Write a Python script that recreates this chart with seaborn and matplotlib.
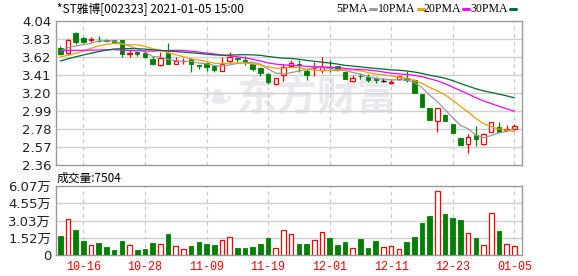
import numpy as np
import pandas as pd
import matplotlib
matplotlib.use("Agg")
import matplotlib.pyplot as plt
import seaborn as sns

# ---------------- data ----------------
dates = ["10-13","10-14","10-15","10-16","10-19","10-20","10-21","10-22","10-23","10-26",
         "10-27","10-28","10-29","10-30","11-02","11-03","11-04","11-05","11-06","11-09",
         "11-10","11-11","11-12","11-13","11-16","11-17","11-18","11-19","11-20","11-23",
         "11-24","11-25","11-26","11-27","11-30","12-01","12-02","12-03","12-04","12-07",
         "12-08","12-09","12-10","12-11","12-14","12-15","12-16","12-17","12-18","12-21",
         "12-22","12-23","12-24","12-25","12-28","12-29","12-30","12-31","01-04","01-05"]

open_ = [3.725,3.663,3.896,3.845,3.820,3.810,3.817,3.815,3.818,3.660,
         3.678,3.670,3.593,3.523,3.672,3.542,3.575,3.593,3.524,3.553,
         3.510,3.460,3.570,3.605,3.590,3.535,3.490,3.418,3.305,3.410,
         3.520,3.540,3.455,3.490,3.470,3.500,3.515,3.450,3.345,3.402,
         3.390,3.370,3.340,3.320,3.360,3.380,3.350,3.185,3.020,2.877,
         2.943,2.838,2.678,2.602,2.710,2.600,2.750,2.800,2.765,2.776]
high = [3.748,3.830,3.908,3.857,3.857,3.868,3.830,3.820,3.820,3.700,
        3.693,3.700,3.632,3.682,3.780,3.623,3.612,3.612,3.524,3.565,
        3.520,3.617,3.682,3.623,3.630,3.550,3.507,3.430,3.373,3.535,
        3.580,3.580,3.490,3.560,3.617,3.580,3.520,3.455,3.410,3.430,
        3.420,3.390,3.370,3.360,3.400,3.455,3.360,3.190,3.020,3.020,
        2.960,2.838,2.678,2.720,2.810,2.730,2.867,2.865,2.825,2.840]
low = [3.643,3.643,3.775,3.787,3.800,3.798,3.800,3.787,3.616,3.616,
       3.632,3.608,3.527,3.518,3.535,3.540,3.535,3.448,3.480,3.460,
       3.448,3.455,3.547,3.553,3.530,3.460,3.400,3.300,3.295,3.340,
       3.500,3.450,3.350,3.400,3.430,3.450,3.460,3.360,3.330,3.360,
       3.330,3.320,3.330,3.300,3.350,3.330,3.200,3.040,2.885,2.748,
       2.877,2.736,2.593,2.503,2.580,2.590,2.748,2.745,2.760,2.770]
close = [3.658,3.818,3.798,3.798,3.825,3.805,3.810,3.800,3.650,3.672,
         3.652,3.616,3.542,3.612,3.540,3.577,3.578,3.535,3.518,3.500,
         3.468,3.540,3.617,3.600,3.560,3.475,3.430,3.332,3.370,3.505,
         3.550,3.530,3.405,3.495,3.505,3.490,3.470,3.360,3.375,3.398,
         3.355,3.350,3.340,3.325,3.395,3.350,3.205,3.040,2.885,3.020,
         2.877,2.736,2.593,2.685,2.660,2.720,2.858,2.748,2.780,2.820]
# earlier closes (before the visible window) needed for the moving averages
prior_close = [3.05,3.10,3.15,3.20,3.26,3.30,3.39,3.56,3.64,3.69,
               3.74,3.78,3.80,3.77,3.79,3.75,3.76,3.78,3.74,3.72,
               3.65,3.58,3.52,3.50,3.53,3.62,3.70,3.72,3.75]
# volume in 万
volume = [1.67,3.14,2.20,1.23,0.88,1.06,0.70,0.44,1.23,0.88,
          0.44,0.53,1.06,0.97,1.85,0.79,0.53,0.79,1.14,0.97,
          0.88,1.32,1.58,0.62,0.62,0.70,0.97,1.50,0.62,2.20,
          1.85,0.97,0.97,1.32,2.02,1.50,0.88,1.14,0.62,1.41,
          0.62,1.23,0.70,0.79,0.53,1.14,1.58,2.81,3.43,5.63,
          3.61,3.25,3.08,1.93,1.50,0.88,3.69,2.11,0.97,0.7504]

price_ticks = [2.36,2.57,2.78,2.99,3.20,3.41,3.62,3.83,4.04]
vol_ticks = [0,1.52,3.03,4.55,6.07]
vol_tick_labels = ["0","1.52万","3.03万","4.55万","6.07万"]
date_ticks = ["10-16","10-28","11-09","11-19","12-01","12-11","12-23","01-05"]
ma_periods = [5,10,20,30]
ma_labels = ["5PMA","10PMA","20PMA","30PMA"]
ma_colors = ["#999999","#f0a000","#ff00ff","#006a33"]

# ---------------- figure ----------------
sns.set_style("white")
plt.rcParams['font.family'] = ['DejaVu Sans']

W, H = 578, 276
fig = plt.figure(figsize=(W/100, H/100), dpi=100)

def ax_rect(l, t, r, b):
    return [l/W, 1-b/H, (r-l)/W, (b-t)/H]

axp = fig.add_axes(ax_rect(56, 21, 522, 165))
axv = fig.add_axes(ax_rect(56, 186, 522, 255))

n = len(close)
x = np.arange(n)
df = pd.DataFrame({"x": x, "open": open_, "high": high, "low": low,
                   "close": close, "vol": volume, "date": dates})
allc = pd.Series(prior_close + close)
for p in ma_periods:
    df[f"ma{p}"] = allc.rolling(p).mean().values[len(prior_close):]

RED = "#ff0000"
GRN = "#008000"

xl = (-0.56, 60.0)
grid_c = "#d0d0d0"
spine_c = "#999999"

for ax in (axp, axv):
    ax.set_xlim(*xl)
    for s in ax.spines.values():
        s.set_color(spine_c)
        s.set_linewidth(1.0)
    ax.tick_params(length=0)
    di = [dates.index(d) for d in date_ticks]
    for d in di:
        ax.axvline(d, color="#c8c8c8", lw=0.9, ls=(0, (3, 3)), zorder=1)

# watermark
axp.text((237-56)/466, 0.46, "东方财富", transform=axp.transAxes, ha="left", va="center",
         fontsize=29, fontweight="bold", color="#e9e9ed", zorder=0,
         family=["Noto Sans CJK SC"])
axp.text((216-56)/466, 0.46, "❧", transform=axp.transAxes, ha="center", va="center",
         fontsize=30, color="#e9e9ed", zorder=0, family=["DejaVu Sans"])

# price panel grid
axp.set_ylim(2.36, 4.04)
axp.set_yticks(price_ticks)
axp.set_yticklabels([f"{v:.2f}" for v in price_ticks], fontsize=9.5, color="#222222")
for v in price_ticks[1:-1]:
    axp.axhline(v, color=grid_c, lw=1.0, zorder=1)
axp.set_xticks([])

# candles
for i, r in df.iterrows():
    if r["close"] > r["open"]:
        c = RED
    elif r["close"] < r["open"]:
        c = GRN
    else:
        c = "#000000"
    axp.vlines(r["x"], r["low"], r["high"], color=c, lw=0.9, zorder=3)
    if r["close"] > r["open"]:
        axp.bar(r["x"], r["close"]-r["open"], bottom=r["open"], width=0.58,
                facecolor="white", edgecolor=c, linewidth=0.9, zorder=4)
    elif r["close"] < r["open"]:
        axp.bar(r["x"], r["open"]-r["close"], bottom=r["close"], width=0.58,
                facecolor=c, edgecolor=c, linewidth=0.6, zorder=4)
    else:
        axp.hlines(r["close"], r["x"]-0.32, r["x"]+0.32, color=c, lw=0.9, zorder=4)

for p, c in zip(ma_periods, ma_colors):
    sns.lineplot(data=df, x="x", y=f"ma{p}", ax=axp, color=c, lw=0.9, zorder=5)
axp.set_xlabel("")
axp.set_ylabel("")
axp.set_xlim(*xl)

# volume panel
axv.set_ylim(0, 6.07)
axv.set_yticks(vol_ticks)
axv.set_yticklabels(vol_tick_labels, fontsize=9.5, color="#222222",
                    family=["DejaVu Sans", "Noto Sans CJK SC"])
for v in vol_ticks[1:-1]:
    axv.axhline(v, color=grid_c, lw=1.0, zorder=1)
vup = df["close"] >= df["open"]
axv.bar(df["x"][vup], df["vol"][vup], width=0.6, facecolor="white",
        edgecolor=RED, linewidth=0.9, zorder=3)
axv.bar(df["x"][~vup], df["vol"][~vup], width=0.6, facecolor=GRN,
        edgecolor=GRN, linewidth=0.6, zorder=3)
axv.set_xticks([dates.index(d) for d in date_ticks])
axv.set_xticklabels(date_ticks, fontsize=8.5, color=RED, family=["Liberation Mono"])
axv.tick_params(axis="x", pad=4)

# texts
fig.text(57/W, 1-9/H, "*ST雅博[002323] 2021-01-05 15:00", ha="left", va="center",
         fontsize=8.5, color="#000000", family=["Noto Sans CJK SC", "DejaVu Sans"])
fig.text(57/W, 1-178/H, "成交量:7504", ha="left", va="center",
         fontsize=8.5, color="#000000", family=["Noto Sans CJK SC", "DejaVu Sans"])

# legend: label followed by short colour dash
fig.canvas.draw()
renderer = fig.canvas.get_renderer()
starts = [336, 378, 423, 470]
for lab, tx, c in zip(ma_labels, starts, ma_colors):
    t = fig.text(tx/W, 1-9/H, lab, ha="left", va="center", fontsize=8.5,
                 color="#000000", family=["Liberation Serif"])
    bb = t.get_window_extent(renderer=renderer)
    x0 = bb.x1 + 2
    fig.add_artist(plt.Line2D([x0/W, (x0+6)/W], [1-9/H, 1-9/H], color=c, lw=2.2))

fig.savefig("out.png", dpi=100, facecolor="white")
